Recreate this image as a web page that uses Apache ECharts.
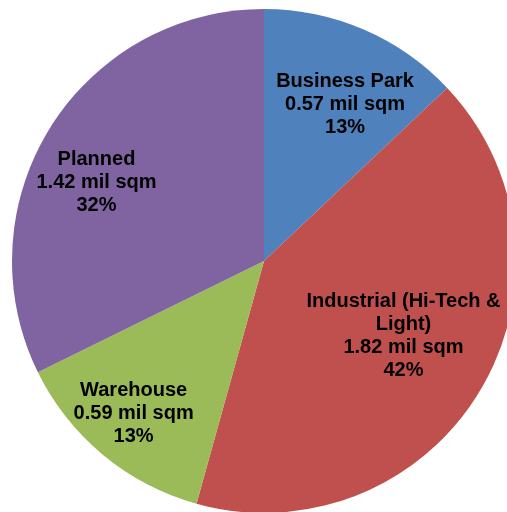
<!DOCTYPE html>
<html>
<head>
<meta charset="utf-8">
<style>
  html, body { margin: 0; padding: 0; background: #ffffff; }
  #chart { width: 507px; height: 512px; }
</style>
<script src="https://cdn.jsdelivr.net/npm/echarts@6/dist/echarts.min.js"></script>
</head>
<body>
<div id="chart"></div>
<script>
// Land use breakdown (million square metres)
const categories = ['Business Park', 'Industrial (Hi-Tech &\nLight)', 'Warehouse', 'Planned'];
const areaMilSqm = [0.57, 1.82, 0.59, 1.42];
const percentLabels = ['13%', '42%', '13%', '32%'];

// Slice colours and per-slice label nudges (px) from the default inside spot
const sliceColors = ['#4F81BD', '#C0504D', '#9BBB59', '#8064A2'];
const labelNudges = [[30, -38], [29, 8], [-48, 53], [-58, -10]];

const chart = echarts.init(document.getElementById('chart'), null, { renderer: 'canvas' });

const data = categories.map((name, i) => ({
  name: name,
  value: areaMilSqm[i],
  itemStyle: { color: sliceColors[i] },
  label: { offset: labelNudges[i] }
}));

chart.setOption({
  animation: false,
  backgroundColor: '#ffffff',
  series: [{
    type: 'pie',
    center: [264, 261],
    radius: [0, 252],
    startAngle: 90,
    clockwise: true,
    avoidLabelOverlap: false,
    data: data,
    itemStyle: { borderWidth: 0 },
    emphasis: { disabled: true },
    labelLine: { show: false },
    label: {
      show: true,
      position: 'inside',
      color: '#000000',
      fontFamily: '"Liberation Sans", Arial, sans-serif',
      fontWeight: 'bold',
      fontSize: 20,
      lineHeight: 23,
      align: 'center',
      formatter: function (p) {
        return p.name + '\n' + areaMilSqm[p.dataIndex].toFixed(2) + ' mil sqm\n' + percentLabels[p.dataIndex];
      }
    }
  }]
});
</script>
</body>
</html>
